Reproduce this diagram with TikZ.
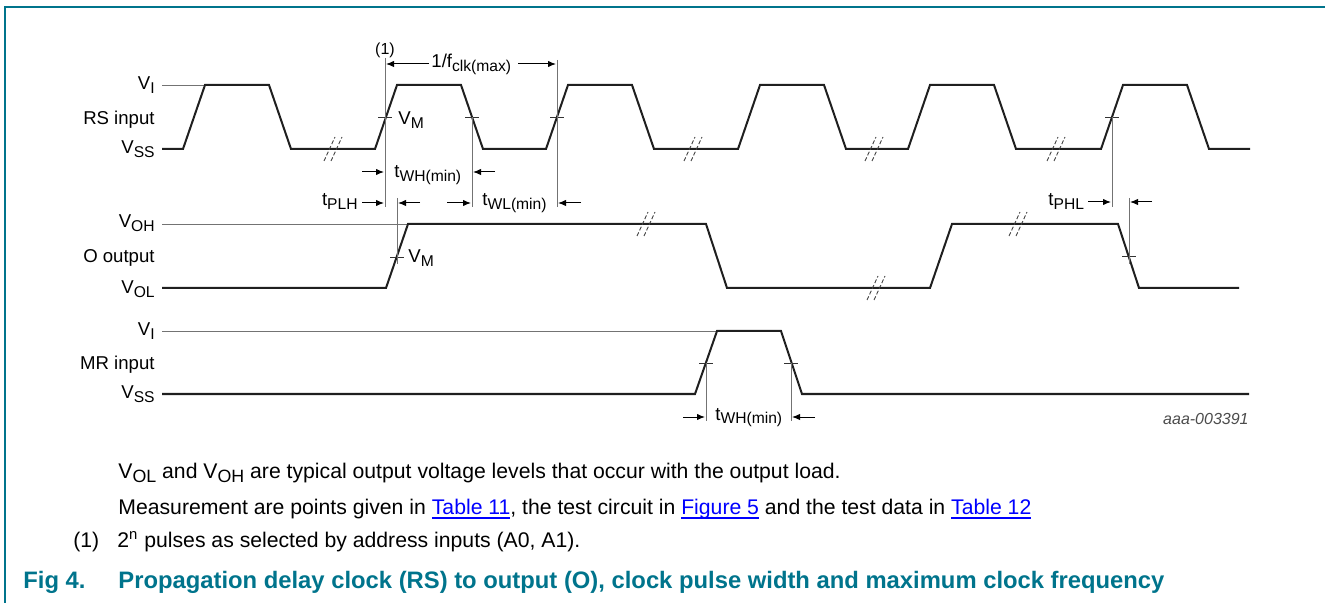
\documentclass[tikz,border=0pt]{standalone}
\usepackage{fontspec}
\setmainfont{Liberation Sans}
\usetikzlibrary{arrows.meta}

\definecolor{nxpteal}{RGB}{0,116,140}
\definecolor{linkblue}{RGB}{0,0,255}
\definecolor{guide}{RGB}{115,115,115}

\newcommand{\lo}[1]{\raisebox{-0.2em}{\scalebox{0.84}{#1}}}
\newcommand{\lnk}[1]{\textcolor{linkblue}{\setbox0\hbox{#1}\rlap{\rule[-2.4pt]{\wd0}{0.9pt}}\box0}}

\tikzset{
	wave/.style={line width=1pt, draw=black!88},
	refline/.style={line width=0.45pt, draw=guide},
	marker/.style={line width=0.45pt, draw=guide},
	tick/.style={line width=0.45pt, draw=black!80},
	dimarrow/.style={line width=0.5pt, -{Latex[length=4pt,width=3.2pt]}},
	brk/.style={line width=0.45pt, draw=black!75, dash pattern=on 2pt off 1.1pt},
	lbl/.style={inner sep=0pt, font=\fontsize{9.3}{11}\selectfont},
	note/.style={inner sep=0pt, anchor=base west, font=\fontsize{10.6}{13}\selectfont},
	figcap/.style={inner sep=0pt, anchor=base west, text=nxpteal, font=\fontsize{11.9}{14}\selectfont\bfseries},
}

\begin{document}
\begin{tikzpicture}[x=0.5pt,y=-0.5pt]
		\useasboundingbox (0,0) rectangle (1325,603);
		\draw[nxpteal, line width=0.75pt] (5,603) -- (5,7) -- (1325,7);

		% signal names and levels
		\node[lbl, anchor=base east] (rsvi) at (155,90) {V\lo{I}};
		\node[lbl, anchor=base east] (rsname) at (155,125) {RS input};
		\node[lbl, anchor=base east] (rsvss) at (155,154) {V\lo{SS}};
		\node[lbl, anchor=base east] (ovoh) at (155,228) {V\lo{OH}};
		\node[lbl, anchor=base east] (oname) at (155,263) {O output};
		\node[lbl, anchor=base east] (ovol) at (155,294) {V\lo{OL}};
		\node[lbl, anchor=base east] (mrvi) at (155,336) {V\lo{I}};
		\node[lbl, anchor=base east] (mrname) at (155,370) {MR input};
		\node[lbl, anchor=base east] (mrvss) at (155,399) {V\lo{SS}};

		\draw[refline] (162,85) -- (205,85);
		\draw[refline] (162,224) -- (408,224);
		\draw[refline] (162,331) -- (717,331);

		% waveforms
		\draw[wave] (162,149) \foreach \s in {183,375,546,738,908,1101} { -- (\s,149) -- ++(22,-64) -- ++(64,0) -- ++(22,64) } -- (1250,149);
		\draw[wave] (162,288) -- (386,288) -- (408,224) -- (706,224) -- (727,288) -- (930,288) -- (952,224) -- (1118,224) -- (1139,288) -- (1239,288);
		\draw[wave] (162,394) -- (695,394) -- (717,331) -- (781,331) -- (802,394) -- (1249,394);

		% breaks
		\foreach \x/\y in {333/149,693/149,874/149,1056/149,646/224,876/288,1018/224} {
			\draw[brk] (\x-9,\y+12) -- (\x+2,\y-12);
			\draw[brk] (\x-2,\y+12) -- (\x+9,\y-12);
		}

		% V_M crossings
		\foreach \x/\y in {385/117,472/117,557/117,1112/117,397/257,1129/256,706/363,791/363}
			\draw[tick] (\x-7,\y) -- (\x+7,\y);
		\node[lbl, anchor=base west] (rsvm) at (398,125) {V\lo{M}};
		\node[lbl, anchor=base west] (ovm) at (408,263) {V\lo{M}};

		\draw[marker] (385,58) -- (385,207);
		\draw[marker] (557,60) -- (557,207);
		\draw[marker] (472,117) -- (472,207);
		\draw[marker] (397,198) -- (397,264);
		\draw[marker] (1112,117) -- (1112,207);
		\draw[marker] (1129,198) -- (1129,264);
		\draw[marker] (706,363) -- (706,421);
		\draw[marker] (791,363) -- (791,421);

		% timing labels
		\node[lbl, anchor=base, font=\fontsize{8}{10}\selectfont] (noteref) at (385,55) {(1)};
		\node[lbl, anchor=base west] (fclk) at (431,68) {1/f\lo{clk(max)}};
		\draw[dimarrow] (429,64) -- (386,64);
		\draw[dimarrow] (518,64) -- (556,64);

		\node[lbl, anchor=base west] (twhrs) at (394,178) {t\lo{WH(min)}};
		\draw[dimarrow] (362,172) -- (384,172);
		\draw[dimarrow] (495,172) -- (473,172);

		\node[lbl, anchor=base east] (tplh) at (358,206) {t\lo{PLH}};
		\draw[dimarrow] (362,203) -- (384,203);
		\draw[dimarrow] (420,203) -- (398,203);

		\node[lbl, anchor=base west] (twl) at (482,206) {t\lo{WL(min)}};
		\draw[dimarrow] (447,203) -- (471,203);
		\draw[dimarrow] (581,203) -- (558,203);

		\node[lbl, anchor=base west] (tphl) at (1048,206) {t\lo{PHL}};
		\draw[dimarrow] (1088,202) -- (1111,202);
		\draw[dimarrow] (1152,202) -- (1130,202);

		\node[lbl, anchor=base west] (twhmr) at (715,420) {t\lo{WH(min)}};
		\draw[dimarrow] (683,417) -- (705,417);
		\draw[dimarrow] (815,417) -- (792,417);

		\node[lbl, anchor=base east, font=\fontsize{8}{10}\selectfont\itshape, text=black!70] (figid) at (1249,424) {aaa-003391};

		% notes and caption
		\node[note] (note1) at (118,478) {V\lo{OL} and V\lo{OH} are typical output voltage levels that occur with the output load.};
		\node[note] (note2) at (118,514) {Measurement are points given in \lnk{Table 11}, the test circuit in \lnk{Figure 5} and the test data in \lnk{Table 12}};
		\node[note] (note3no) at (73,547) {(1)};
		\node[note] (note3) at (117,547) {2\textsuperscript{n} pulses as selected by address inputs (A0, A1).};
		\node[figcap] (figno) at (23,588) {Fig 4.};
		\node[figcap] (figtitle) at (118,588) {Propagation delay clock (RS) to output (O), clock pulse width and maximum clock frequency};
	\end{tikzpicture}
\end{document}
